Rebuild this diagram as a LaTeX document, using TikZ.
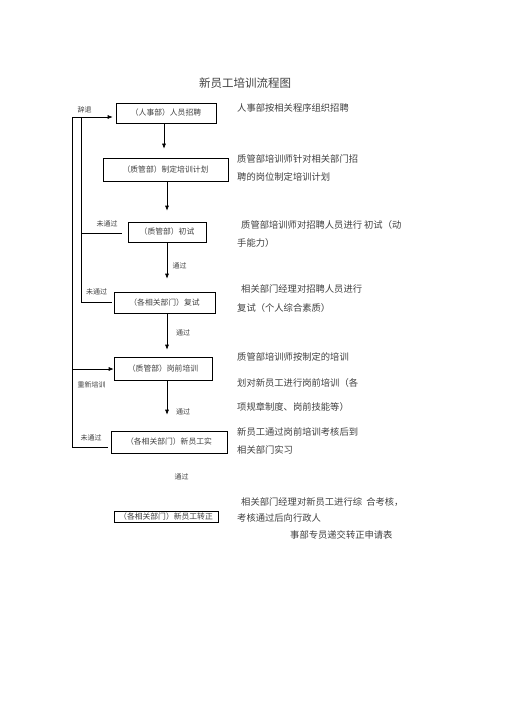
\documentclass[tikz,border=0pt]{standalone}
\usepackage{fontspec}
\setmainfont{Noto Sans CJK SC}
\usetikzlibrary{arrows.meta}
\definecolor{txt}{gray}{0.25}
\tikzset{
  box/.style={draw=black, line width=0.6pt, inner sep=0pt, font=\fontsize{7.8}{9}\selectfont, text=txt},
  arr/.style={draw=black, line width=0.6pt, -{Latex[length=5pt,width=4pt]}},
  ln/.style={draw=black, line width=0.6pt},
  lab/.style={font=\fontsize{7}{8}\selectfont, text=txt, inner sep=0pt},
  desc/.style={font=\fontsize{9.3}{11}\selectfont, text=txt, inner sep=0pt, anchor=west},
}
\begin{document}
\begin{tikzpicture}[x=1pt,y=-1pt]
\useasboundingbox[fill=white] (0,0) rectangle (505,714);

\node[font=\fontsize{11.5}{13}\selectfont, text=txt, inner sep=0pt] (title) at (245,83) {新员工培训流程图};

% boxes
\node[box, minimum width=100pt, minimum height=20pt] (b1) at (166,113) {（人事部）人员招聘};
\node[box, minimum width=125pt, minimum height=23pt] (b2) at (165.5,169.5) {（质管部）制定培训计划};
\node[box, minimum width=78pt, minimum height=20pt] (b3) at (167,232) {（质管部）初试};
\node[box, minimum width=101pt, minimum height=21pt] (b4) at (164.5,302.5) {（各相关部门）复试};
\node[box, minimum width=98pt, minimum height=23pt] (b5) at (163,368.5) {（质管部）岗前培训};
\node[box, minimum width=116pt, minimum height=22pt] (b6) at (169,442) {（各相关部门）新员工实};
\node[box, line width=1pt, minimum width=104pt, minimum height=10.5pt] (b7) at (166,517) {（各相关部门）新员工转正};

% coordinates for the side loops
\coordinate (o1) at (72,117);
\coordinate (o2) at (72,369);
\coordinate (o3) at (72,447);
\coordinate (i1) at (81,117);
\coordinate (i2) at (81,233);
\coordinate (i3) at (81,302);

% vertical arrows down the chain
\draw[arr, shorten >=9pt] (b1.south -| 164,0) -- (b2.north -| 164,0);
\draw[arr, shorten >=11pt] (b2.south -| 167,0) -- (b3.north -| 167,0);
\draw[arr, shorten >=13pt] (b3.south -| 167,0) -- (b4.north -| 167,0);
\draw[arr, shorten >=7pt] (b4.south -| 167,0) -- (b5.north -| 167,0);
\draw[arr, shorten >=16pt] (b5.south -| 167,0) -- (b6.north -| 167,0);

% outer loop
\draw[ln] (b6.west |- o3) ++(-3,0) -- (o3) -- (o1);
\draw[arr, shorten >=3pt] (o1) -- (b1.west |- o1);
\draw[arr] (o2) -- (b5.west |- o2);

% inner loop
\draw[ln] (i1) -- (i3);
\draw[ln, shorten >=6pt] (i2) -- (b3.west |- i2);
\draw[ln, shorten >=2pt] (i3) -- (b4.west |- i3);

% labels
\node[lab] (l1) at (84.5,110) {辞退};
\node[lab] (l2) at (107,224) {未通过};
\node[lab] (l3) at (179.5,266) {通过};
\node[lab] (l4) at (96.5,292) {未通过};
\node[lab] (l5) at (183,333) {通过};
\node[lab] (l6) at (91.5,385) {重新培训};
\node[lab] (l7) at (183,412) {通过};
\node[lab] (l8) at (91,438) {未通过};
\node[lab] (l9) at (181.5,477) {通过};

% descriptions
\node[desc] (d1) at (237,108) {人事部按相关程序组织招聘};
\node[desc] (d2) at (237,159) {质管部培训师针对相关部门招};
\node[desc] (d3) at (237,177) {聘的岗位制定培训计划};
\node[desc] (d4) at (241,225) {质管部培训师对招聘人员进行\ 初试（动};
\node[desc] (d5) at (237,243) {手能力）};
\node[desc] (d6) at (241,289) {相关部门经理对招聘人员进行};
\node[desc] (d7) at (237,308) {复试（个人综合素质）};
\node[desc] (d8) at (237,357) {质管部培训师按制定的培训};
\node[desc] (d9) at (237,383) {划对新员工进行岗前培训（各};
\node[desc] (d10) at (237,407) {项规章制度、岗前技能等）};
\node[desc] (d11) at (237,432) {新员工通过岗前培训考核后到};
\node[desc] (d12) at (237,450) {相关部门实习};
\node[desc] (d13) at (241,502) {相关部门经理对新员工进行综\ \ 合考核，};
\node[desc] (d14) at (237,518) {考核通过后向行政人};
\node[desc] (d15) at (290,535) {事部专员递交转正申请表};
\end{tikzpicture}
\end{document}
